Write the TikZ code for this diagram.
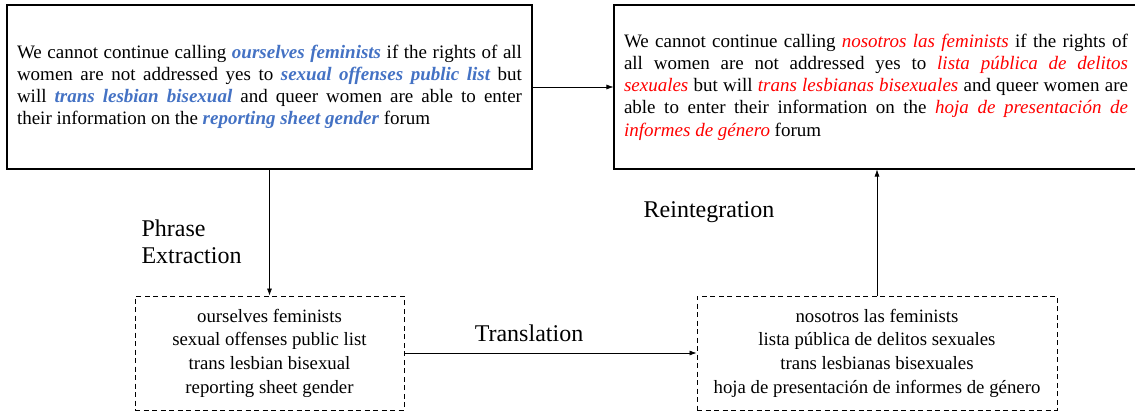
\documentclass[tikz,border=0pt]{standalone}
\usepackage{fontspec}
\setmainfont{Liberation Serif}
\usetikzlibrary{arrows.meta}
\definecolor{phraseblue}{RGB}{68,114,196}
\definecolor{phrasered}{RGB}{255,0,0}
\newcommand{\srcph}[1]{\textcolor{phraseblue}{\bfseries\itshape #1}}
\newcommand{\tgtph}[1]{\textcolor{phrasered}{\itshape #1}}
\begin{document}
\begin{tikzpicture}[x=1pt,y=1pt,
	sentbox/.style={draw, line width=1.1pt, minimum height=164pt, inner xsep=9pt,
		align=justify, font=\fontsize{19}{22.2}\selectfont},
	phrasebox/.style={draw, dashed, dash pattern=on 5pt off 3.5pt, line width=1pt,
		minimum height=114pt, align=center, font=\fontsize{18.8}{23.7}\selectfont},
	flow/.style={-{Latex[length=7pt,width=5pt]}, line width=0.6pt},
	steplabel/.style={font=\fontsize{24}{27}\selectfont, align=left}]
\useasboundingbox (0,0) rectangle (1135,-414);
% sentences
\node [sentbox, text width=505pt, minimum width=525pt] (src) at (269.5,-87)
	{\hyphenpenalty=10000 We cannot continue calling \srcph{ourselves feminists} if the rights of all\linebreak
	women are not addressed yes to \srcph{sexual offenses public list} but\linebreak
	will \srcph{trans lesbian bisexual} and queer women are able to enter\linebreak
	their information on the \srcph{reporting sheet gender} forum};
\node [sentbox, text width=504pt, minimum width=524pt] (tgt) at (876,-87)
	{\hyphenpenalty=10000 We cannot continue calling \tgtph{nosotros las feminists} if the rights of\linebreak
	all women are not addressed yes to \tgtph{lista pública de delitos}\linebreak
	\tgtph{sexuales} but will \tgtph{trans lesbianas bisexuales} and queer women are\linebreak
	able to enter their information on the \tgtph{hoja de presentación de}\linebreak
	\tgtph{informes de género} forum};
% phrases
\node [phrasebox, minimum width=269pt] (srcp) at (269.5,-353)
	{ourselves feminists\\ sexual offenses public list\\ trans lesbian bisexual\\ reporting sheet gender};
\node [phrasebox, minimum width=360pt] (tgtp) at (877,-353)
	{nosotros las feminists\\ lista pública de delitos sexuales\\ trans lesbianas bisexuales\\ hoja de presentación de informes de género};
% arrows
\draw [flow] (src.east) -- (tgt.west);
\draw [flow] (src.south) -- (srcp.north);
\draw [flow] (srcp.east) -- (tgtp.west);
\draw [flow] (tgtp.north) -- (tgtp.north |- tgt.south);
% labels
\node [steplabel, anchor=west] (extract) at (138,-242) {Phrase\\Extraction};
\node [steplabel] (reint) at (709,-212) {Reintegration};
\node [steplabel] (transl) at (529,-333) {Translation};
\end{tikzpicture}
\end{document}
